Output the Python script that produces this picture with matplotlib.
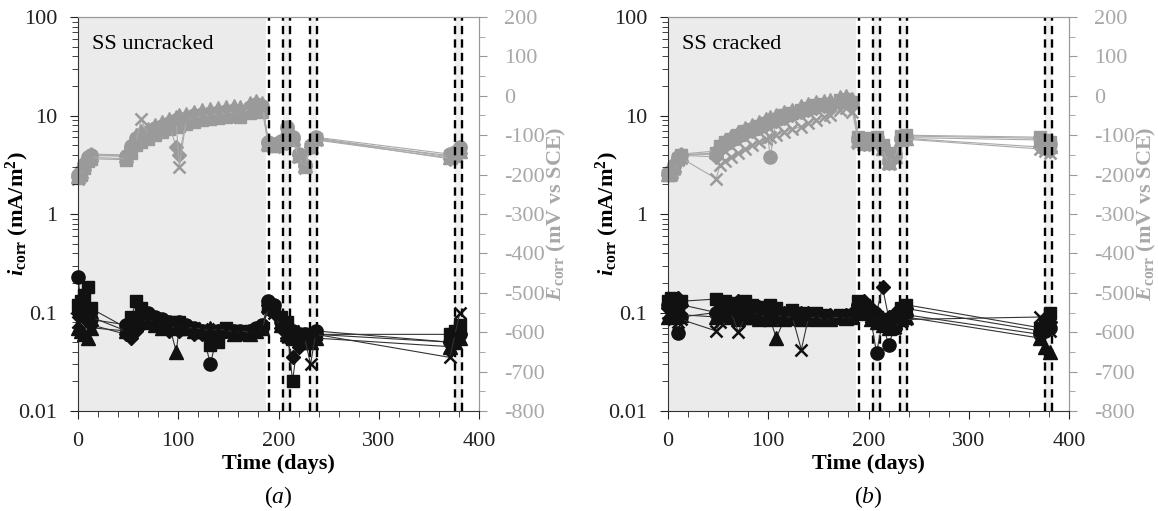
import matplotlib
matplotlib.use("Agg")
import matplotlib.pyplot as plt
from matplotlib.ticker import FixedLocator, MultipleLocator, LogLocator, FuncFormatter, NullFormatter

plt.rcParams['font.family'] = ['Liberation Serif', 'DejaVu Serif']
plt.rcParams['axes.unicode_minus'] = False
plt.rcParams['mathtext.fontset'] = 'custom'
plt.rcParams['mathtext.rm'] = 'Liberation Serif'
plt.rcParams['mathtext.it'] = 'Liberation Serif:italic'
plt.rcParams['mathtext.bf'] = 'Liberation Serif:bold'
plt.rcParams['mathtext.bfit'] = 'Liberation Serif:italic:bold'

# ---------------- data ----------------
series_markers = ['o', 's', '^', 'D', 'x']

t_a = [0, 3, 6, 10, 13, 48, 53, 58, 63, 70, 77, 84, 91, 98, 101, 108, 116, 124, 132, 140,
       148, 156, 162, 172, 178, 184, 190, 196, 202, 208, 214, 220, 226, 232, 237, 371, 376, 381]
t_b = [0, 3, 6, 10, 13, 48, 52, 57, 63, 70, 77, 84, 91, 98, 102, 108, 116, 124, 133, 140,
       148, 156, 162, 172, 178, 184, 190, 196, 202, 208, 214, 220, 226, 232, 237, 371, 376, 381]

# corrosion current density (mA/m2), panel (a)
a_I_circle = [0.23, 0.12, 0.10, 0.09, 0.085, 0.075, 0.08, 0.085, 0.09, 0.10, 0.09, 0.085, 0.08, 0.075, 0.08, 0.075, 0.07, 0.065, 0.03, 0.065,
              0.065, 0.065, 0.065, 0.065, 0.07, 0.075, 0.13, 0.12, 0.08, 0.07, 0.065, 0.06, 0.06, 0.06, 0.065, 0.05, 0.055, 0.06]
a_I_square = [0.12, 0.13, 0.15, 0.18, 0.11, 0.07, 0.09, 0.13, 0.11, 0.09, 0.085, 0.08, 0.08, 0.075, 0.08, 0.07, 0.068, 0.065, 0.047, 0.05,
              0.07, 0.065, 0.06, 0.065, 0.066, 0.07, 0.12, 0.11, 0.09, 0.08, 0.02, 0.06, 0.06, 0.055, 0.06, 0.06, 0.065, 0.075]
a_I_tri = [0.07, 0.065, 0.06, 0.055, 0.07, 0.065, 0.075, 0.08, 0.085, 0.08, 0.075, 0.07, 0.075, 0.04, 0.07, 0.07, 0.065, 0.065, 0.07, 0.065,
           0.068, 0.06, 0.062, 0.06, 0.065, 0.07, 0.12, 0.11, 0.075, 0.06, 0.055, 0.055, 0.05, 0.05, 0.055, 0.045, 0.05, 0.055]
a_I_dia = [0.10, 0.11, 0.09, 0.08, 0.075, 0.06, 0.055, 0.065, 0.075, 0.08, 0.075, 0.07, 0.065, 0.07, 0.065, 0.07, 0.06, 0.06, 0.065, 0.06,
           0.065, 0.063, 0.06, 0.062, 0.065, 0.07, 0.12, 0.10, 0.07, 0.055, 0.035, 0.045, 0.05, 0.055, 0.06, 0.05, 0.055, 0.06]
a_I_x = [0.08, 0.085, 0.09, 0.10, 0.09, 0.065, 0.07, 0.075, 0.08, 0.085, 0.08, 0.075, 0.07, 0.072, 0.075, 0.07, 0.07, 0.068, 0.065, 0.068,
         0.066, 0.064, 0.065, 0.063, 0.066, 0.07, 0.11, 0.10, 0.08, 0.07, 0.065, 0.06, 0.055, 0.03, 0.06, 0.035, 0.06, 0.10]

# corrosion potential (mV vs SCE), panel (a)
a_E_circle = [-200, -190, -172, -155, -150, -152, -128, -108, -98, -92, -82, -76, -68, -62, -60, -56, -50, -46, -43, -40,
              -38, -36, -38, -28, -22, -26, -118, -122, -115, -80, -105, -148, -175, -125, -105, -148, -142, -130]
a_E_square = [-208, -200, -182, -165, -160, -162, -145, -125, -116, -110, -100, -92, -84, -78, -76, -72, -66, -62, -59, -56,
              -54, -52, -54, -44, -38, -40, -124, -128, -120, -88, -112, -152, -180, -130, -110, -152, -148, -138]
a_E_tri = [-203, -190, -170, -152, -148, -150, -120, -100, -90, -84, -74, -66, -58, -54, -50, -46, -40, -36, -33, -30,
           -28, -26, -28, -18, -14, -18, -121, -126, -117, -84, -108, -150, -176, -127, -107, -155, -150, -140]
a_E_dia = [-206, -196, -174, -158, -151, -154, -129, -109, -101, -94, -84, -77, -75, -130, -150, -62, -55, -49, -46, -43,
           -41, -39, -41, -29, -24, -27, -119, -124, -116, -82, -109, -149, -177, -129, -109, -160, -155, -145]
a_E_x = [-210, -200, -180, -162, -156, -160, -138, -115, -60, -100, -90, -82, -74, -68, -180, -61, -55, -51, -48, -45,
         -43, -41, -43, -33, -27, -31, -126, -130, -122, -90, -114, -155, -182, -132, -112, -158, -152, -142]

# panel (b)
b_I_circle = [0.12, 0.11, 0.10, 0.062, 0.09, 0.10, 0.095, 0.10, 0.11, 0.10, 0.105, 0.095, 0.09, 0.10, 0.095, 0.09, 0.095, 0.09, 0.09, 0.085,
              0.09, 0.088, 0.09, 0.09, 0.092, 0.095, 0.12, 0.10, 0.09, 0.039, 0.08, 0.047, 0.07, 0.09, 0.095, 0.06, 0.065, 0.07]
b_I_square = [0.13, 0.14, 0.13, 0.12, 0.13, 0.137, 0.12, 0.13, 0.125, 0.12, 0.13, 0.12, 0.115, 0.11, 0.12, 0.11, 0.10, 0.105, 0.10, 0.095,
              0.10, 0.095, 0.09, 0.095, 0.09, 0.095, 0.13, 0.12, 0.10, 0.09, 0.085, 0.08, 0.09, 0.11, 0.12, 0.07, 0.08, 0.10]
b_I_tri = [0.09, 0.10, 0.11, 0.10, 0.095, 0.09, 0.10, 0.095, 0.09, 0.085, 0.09, 0.09, 0.085, 0.09, 0.085, 0.055, 0.085, 0.088, 0.085, 0.09,
           0.085, 0.088, 0.085, 0.09, 0.088, 0.09, 0.11, 0.10, 0.085, 0.08, 0.075, 0.07, 0.08, 0.085, 0.09, 0.055, 0.045, 0.04]
b_I_dia = [0.11, 0.12, 0.13, 0.14, 0.12, 0.10, 0.09, 0.10, 0.12, 0.13, 0.12, 0.11, 0.115, 0.10, 0.11, 0.105, 0.10, 0.095, 0.10, 0.10,
           0.095, 0.09, 0.095, 0.09, 0.095, 0.10, 0.12, 0.13, 0.11, 0.10, 0.18, 0.09, 0.10, 0.10, 0.11, 0.065, 0.07, 0.08]
b_I_x = [0.10, 0.09, 0.085, 0.08, 0.085, 0.065, 0.08, 0.09, 0.10, 0.064, 0.09, 0.10, 0.095, 0.09, 0.10, 0.095, 0.09, 0.09, 0.042, 0.088,
         0.09, 0.085, 0.088, 0.09, 0.088, 0.09, 0.11, 0.10, 0.09, 0.085, 0.08, 0.075, 0.07, 0.08, 0.085, 0.09, 0.075, 0.065]

b_E_circle = [-196, -192, -176, -155, -150, -148, -132, -122, -112, -102, -92, -86, -78, -70, -155, -60, -53, -46, -38, -32,
              -26, -23, -22, -13, -10, -18, -108, -116, -110, -108, -128, -162, -148, -106, -102, -108, -116, -122]
b_E_square = [-200, -196, -182, -160, -150, -145, -128, -118, -110, -100, -90, -83, -76, -68, -64, -58, -50, -44, -36, -30,
              -24, -20, -20, -10, -8, -16, -104, -112, -106, -104, -126, -160, -145, -102, -100, -105, -112, -118]
b_E_tri = [-198, -190, -175, -152, -148, -140, -122, -112, -102, -92, -82, -75, -67, -59, -55, -49, -42, -35, -27, -21,
           -15, -12, -11, -3, 0, -8, -112, -120, -114, -112, -132, -168, -152, -110, -106, -112, -120, -128]
b_E_dia = [-200, -195, -181, -157, -151, -155, -138, -128, -118, -108, -98, -90, -82, -74, -70, -64, -57, -50, -42, -36,
           -30, -27, -26, -17, -14, -22, -115, -122, -115, -113, -134, -170, -155, -112, -108, -130, -135, -140]
b_E_x = [-202, -200, -185, -162, -158, -210, -175, -165, -155, -145, -135, -125, -118, -110, -105, -100, -92, -85, -78, -70,
         -62, -55, -50, -35, -30, -40, -120, -125, -118, -115, -135, -172, -158, -115, -110, -135, -140, -145]

shade_end = 188
dashed_days = [191, 204, 211, 231, 238, 376, 383]
light_bands = [(204, 211), (231, 238), (376, 383)]

panels = [
    dict(t=t_a, I=[a_I_circle, a_I_square, a_I_tri, a_I_dia, a_I_x],
         E=[a_E_circle, a_E_square, a_E_tri, a_E_dia, a_E_x], label='SS uncracked', cap='a'),
    dict(t=t_b, I=[b_I_circle, b_I_square, b_I_tri, b_I_dia, b_I_x],
         E=[b_E_circle, b_E_square, b_E_tri, b_E_dia, b_E_x], label='SS cracked', cap='b'),
]

# ---------------- figure ----------------
W, H = 1158, 511
fig = plt.figure(figsize=(W / 100, H / 100), dpi=100)
FS = 16
GRAY_TXT = '#a8a8a8'
GRAY_MK = '#9a9a9a'
BLACK_MK = '#111111'

ms = {'o': 9.5, 's': 9, '^': 9.5, 'D': 7.5, 'x': 9}
axes_left = [78, 668]
for p, xl in zip(panels, axes_left):
    ax = fig.add_axes([xl / W, (H - 411) / H, 401 / W, 394 / H])
    ax2 = ax.twinx()

    # background shading + gray series on the secondary (lower) axes
    ax2.axvspan(0, shade_end, color='#ebebeb', zorder=0, lw=0)
    for a, b in light_bands:
        ax2.axvspan(a, b, color='#f0f0f0', zorder=0, lw=0)
    for m, yE in zip(series_markers, p['E']):
        kw_g = dict(marker=m, ms=ms[m], color='#aaaaaa', lw=0.8, mfc=GRAY_MK, mec=GRAY_MK, clip_on=False)
        if m == 'x':
            kw_g['mew'] = 1.8
        ax2.plot(p['t'], yE, zorder=3, **kw_g)

    for d in dashed_days:
        ax.axvline(d, color='black', lw=1.7, ls=(0, (3.5, 2.2)), zorder=1)

    for m, yI in zip(series_markers, p['I']):
        kw_b = dict(marker=m, ms=ms[m], color='#333333', lw=0.8, mfc=BLACK_MK, mec=BLACK_MK, clip_on=False)
        if m == 'x':
            kw_b['mew'] = 1.8
        ax.plot(p['t'], yI, zorder=3, **kw_b)

    ax.set_yscale('log')
    ax.set_ylim(0.01, 100)
    ax.set_xlim(0, 400)
    ax2.set_ylim(-800, 200)

    ax.xaxis.set_major_locator(FixedLocator([0, 100, 200, 300, 400]))
    ax.xaxis.set_minor_locator(MultipleLocator(20))
    ax.yaxis.set_major_locator(FixedLocator([0.01, 0.1, 1, 10, 100]))
    ax.yaxis.set_minor_locator(LogLocator(base=10, subs=range(2, 10)))
    ax.yaxis.set_minor_formatter(NullFormatter())
    ax.yaxis.set_major_formatter(FuncFormatter(lambda v, pos: '%g' % v))
    ax2.yaxis.set_major_locator(MultipleLocator(100))
    ax2.yaxis.set_minor_locator(MultipleLocator(50))

    ax.tick_params(axis='both', which='both', direction='out', labelsize=FS, colors='#222222')
    ax.tick_params(axis='x', which='major', length=6, pad=9)
    ax.tick_params(axis='y', which='major', length=6, pad=9)
    ax.tick_params(axis='both', which='minor', length=4)
    ax2.tick_params(axis='y', which='both', direction='out', labelsize=FS, colors='#999999', labelcolor=GRAY_TXT)
    ax2.tick_params(axis='y', which='major', length=6, pad=12)
    ax2.tick_params(axis='y', which='minor', length=4)

    ax.spines['left'].set_color('#333333')
    ax.spines['bottom'].set_color('#333333')
    for s in ['top', 'right']:
        ax.spines[s].set_color('#999999')
        ax2.spines[s].set_color('#999999')
    ax2.spines['left'].set_visible(False)
    ax2.spines['bottom'].set_visible(False)

    ax.set_xlabel('Time (days)', fontsize=FS, fontweight='bold')
    ax.xaxis.set_label_coords(0.5, -0.108)
    ax.set_ylabel(r'$\mathbfit{i}_{\mathbf{corr}}$' + r' (mA/m$^{\mathbf{2}}$)', fontsize=FS, fontweight='bold')
    ax.yaxis.set_label_coords(-47 / 401, 0.5)
    ax2.set_ylabel(r'$\mathbfit{E}_{\mathbf{corr}}$' + ' (mV vs SCE)', fontsize=FS, fontweight='bold',
                   color=GRAY_TXT)
    ax2.yaxis.set_label_coords(1 + 66 / 401, 0.5)

    ax.text(0.035, 0.93, p['label'], transform=ax.transAxes, fontsize=FS, va='center', ha='left', zorder=5)
    ax.text(0.5, -0.218, '(' + r'$\mathit{' + p['cap'] + '}$' + ')', transform=ax.transAxes,
            fontsize=FS + 1, ha='center', va='center')

    ax.set_zorder(2)
    ax.patch.set_visible(False)
    ax2.set_zorder(1)

fig.savefig('out.png', dpi=100)
